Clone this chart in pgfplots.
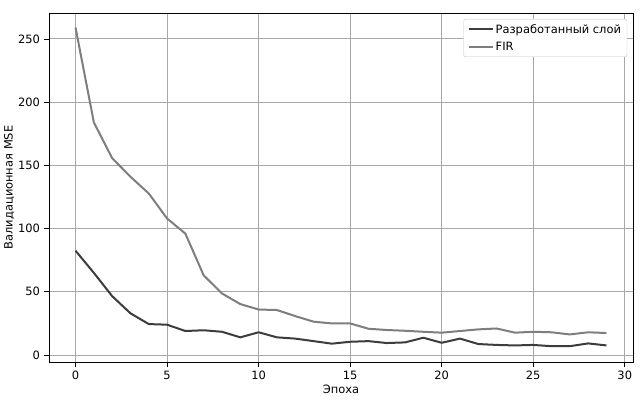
\documentclass[border=0pt]{standalone}
\usepackage{fontspec}
\setmainfont{DejaVu Sans}
\usepackage{pgfplots}
\pgfplotsset{compat=1.18}

\definecolor{darkline}{HTML}{3C3C3C}
\definecolor{lightline}{HTML}{7E7E7E}
\definecolor{gridgray}{HTML}{A8A8A8}

\begin{document}
\fontsize{11.5}{13}\selectfont
\begin{tikzpicture}
\useasboundingbox (-49bp,-41bp) rectangle (593bp,362bp);
\begin{axis}[
  at={(0,0)}, anchor=south west,
  scale only axis,
  width=584bp, height=349bp,
  xmin=-1.45, xmax=30.45,
  ymin=-5.5, ymax=270.5,
  xtick={0,5,10,15,20,25,30},
  ytick={0,50,100,150,200,250},
  /pgf/number format/assume math mode=true,
  ticklabel style={font=\fontsize{11.5}{13}\selectfont},
  tick align=outside,
  tick pos=left,
  major tick length=5bp,
  tick style={black, line width=0.8bp},
  axis line style={black, line width=0.8bp},
  grid=major,
  grid style={gridgray, line width=1bp},
  xlabel={Эпоха},
  ylabel={Валидационная MSE},
  label style={font=\fontsize{11.5}{13}\selectfont},
  xlabel style={yshift=3bp},
  ylabel style={yshift=-4bp},
  legend cell align=left,
  legend style={font=\fontsize{11.5}{13}\selectfont, draw=gray!45, rounded corners=2bp,
    at={(0.99,0.983)}, anchor=north east, row sep=3bp,
    inner xsep=4bp, inner ysep=3bp},
  legend image code/.code={\draw[#1] (0bp,0bp) -- (24bp,0bp);},
  every axis plot/.append style={line width=2bp, mark=none, line join=round},
]
\addplot[darkline] coordinates {
 (0,82.5) (1,65) (2,46.6) (3,33) (4,24.5) (5,24) (6,19) (7,19.6) (8,18.4)
 (9,14) (10,18) (11,14) (12,13) (13,11) (14,9) (15,10.5) (16,11) (17,9.5)
 (18,10) (19,13.7) (20,9.7) (21,13) (22,8.7) (23,8) (24,7.6) (25,8)
 (26,7) (27,7) (28,9.2) (29,7.6)};
\addlegendentry{Разработанный слой}
\addplot[lightline] coordinates {
 (0,259) (1,184) (2,155.7) (3,141) (4,127.8) (5,108) (6,96) (7,63) (8,48.7)
 (9,40.3) (10,36) (11,35.6) (12,30.8) (13,26.4) (14,25) (15,25) (16,20.8)
 (17,19.8) (18,19.2) (19,18.4) (20,17.7) (21,19) (22,20.3) (23,21) (24,17.7)
 (25,18.4) (26,18) (27,16.3) (28,18) (29,17.4)};
\addlegendentry{FIR}
\end{axis}
\end{tikzpicture}
\end{document}
